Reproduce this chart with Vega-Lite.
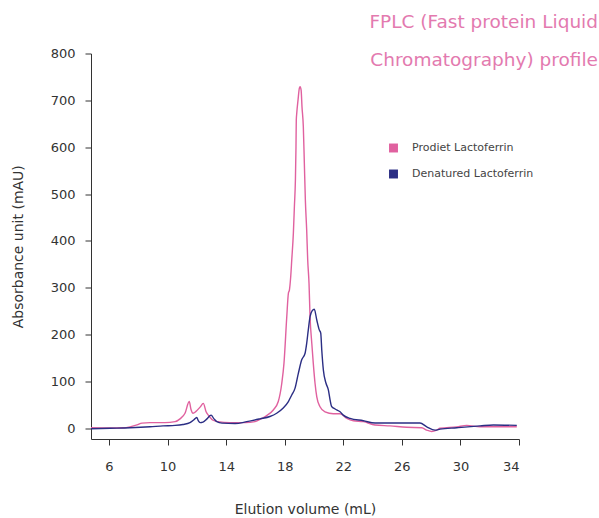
{
  "$schema": "https://vega.github.io/schema/vega-lite/v6.json",
  "autosize": "none",
  "width": 428,
  "height": 385.5,
  "padding": {"left": 91, "top": 53.5, "right": 80, "bottom": 79},
  "background": "white",
  "config": {
    "view": {"stroke": null},
    "font": "DejaVu Sans",
    "axis": {"grid": false, "domainColor": "#333333", "tickColor": "#333333", "labelColor": "#333333", "titleColor": "#333333", "labelFont": "DejaVu Sans", "titleFont": "DejaVu Sans", "titleFontWeight": "normal", "labelFontSize": 13, "titleFontSize": 14}
  },
  "title": {
    "text": ["FPLC (Fast protein Liquid", "Chromatography) profile"],
    "anchor": "end",
    "frame": "group",
    "orient": "top",
    "fontSize": 18.5,
    "fontWeight": "normal",
    "font": "DejaVu Sans",
    "color": "#e37aaf",
    "lineHeight": 38,
    "baseline": "alphabetic",
    "offset": 0,
    "dx": 79,
    "dy": 37
  },
  "data": {
    "values": [
      {"v": 4.77, "a": 1, "s": "Prodiet Lactoferrin"},
      {"v": 6.07, "a": 0.5, "s": "Prodiet Lactoferrin"},
      {"v": 6.96, "a": 1, "s": "Prodiet Lactoferrin"},
      {"v": 7.43, "a": 3, "s": "Prodiet Lactoferrin"},
      {"v": 7.91, "a": 7, "s": "Prodiet Lactoferrin"},
      {"v": 8.25, "a": 11, "s": "Prodiet Lactoferrin"},
      {"v": 8.8, "a": 12, "s": "Prodiet Lactoferrin"},
      {"v": 9.82, "a": 12, "s": "Prodiet Lactoferrin"},
      {"v": 10.51, "a": 14, "s": "Prodiet Lactoferrin"},
      {"v": 10.85, "a": 20, "s": "Prodiet Lactoferrin"},
      {"v": 11.19, "a": 32, "s": "Prodiet Lactoferrin"},
      {"v": 11.48, "a": 57, "s": "Prodiet Lactoferrin"},
      {"v": 11.6, "a": 40, "s": "Prodiet Lactoferrin"},
      {"v": 11.74, "a": 32, "s": "Prodiet Lactoferrin"},
      {"v": 11.94, "a": 36, "s": "Prodiet Lactoferrin"},
      {"v": 12.22, "a": 45, "s": "Prodiet Lactoferrin"},
      {"v": 12.44, "a": 53, "s": "Prodiet Lactoferrin"},
      {"v": 12.63, "a": 35, "s": "Prodiet Lactoferrin"},
      {"v": 12.83, "a": 26, "s": "Prodiet Lactoferrin"},
      {"v": 13.1, "a": 17, "s": "Prodiet Lactoferrin"},
      {"v": 13.44, "a": 14, "s": "Prodiet Lactoferrin"},
      {"v": 14.26, "a": 12, "s": "Prodiet Lactoferrin"},
      {"v": 15.29, "a": 12, "s": "Prodiet Lactoferrin"},
      {"v": 15.97, "a": 14, "s": "Prodiet Lactoferrin"},
      {"v": 16.31, "a": 19, "s": "Prodiet Lactoferrin"},
      {"v": 16.72, "a": 26, "s": "Prodiet Lactoferrin"},
      {"v": 17.22, "a": 39, "s": "Prodiet Lactoferrin"},
      {"v": 17.56, "a": 57, "s": "Prodiet Lactoferrin"},
      {"v": 17.8, "a": 96, "s": "Prodiet Lactoferrin"},
      {"v": 17.95, "a": 139, "s": "Prodiet Lactoferrin"},
      {"v": 18.14, "a": 238, "s": "Prodiet Lactoferrin"},
      {"v": 18.25, "a": 288, "s": "Prodiet Lactoferrin"},
      {"v": 18.32, "a": 295, "s": "Prodiet Lactoferrin"},
      {"v": 18.41, "a": 324, "s": "Prodiet Lactoferrin"},
      {"v": 18.48, "a": 359, "s": "Prodiet Lactoferrin"},
      {"v": 18.59, "a": 416, "s": "Prodiet Lactoferrin"},
      {"v": 18.66, "a": 473, "s": "Prodiet Lactoferrin"},
      {"v": 18.73, "a": 530, "s": "Prodiet Lactoferrin"},
      {"v": 18.77, "a": 601, "s": "Prodiet Lactoferrin"},
      {"v": 18.79, "a": 658, "s": "Prodiet Lactoferrin"},
      {"v": 18.82, "a": 672, "s": "Prodiet Lactoferrin"},
      {"v": 18.91, "a": 701, "s": "Prodiet Lactoferrin"},
      {"v": 19.0, "a": 726, "s": "Prodiet Lactoferrin"},
      {"v": 19.05, "a": 729, "s": "Prodiet Lactoferrin"},
      {"v": 19.12, "a": 722, "s": "Prodiet Lactoferrin"},
      {"v": 19.18, "a": 686, "s": "Prodiet Lactoferrin"},
      {"v": 19.27, "a": 644, "s": "Prodiet Lactoferrin"},
      {"v": 19.34, "a": 566, "s": "Prodiet Lactoferrin"},
      {"v": 19.41, "a": 487, "s": "Prodiet Lactoferrin"},
      {"v": 19.5, "a": 423, "s": "Prodiet Lactoferrin"},
      {"v": 19.57, "a": 359, "s": "Prodiet Lactoferrin"},
      {"v": 19.66, "a": 309, "s": "Prodiet Lactoferrin"},
      {"v": 19.73, "a": 238, "s": "Prodiet Lactoferrin"},
      {"v": 19.85, "a": 181, "s": "Prodiet Lactoferrin"},
      {"v": 19.95, "a": 139, "s": "Prodiet Lactoferrin"},
      {"v": 20.07, "a": 96, "s": "Prodiet Lactoferrin"},
      {"v": 20.19, "a": 67, "s": "Prodiet Lactoferrin"},
      {"v": 20.41, "a": 46, "s": "Prodiet Lactoferrin"},
      {"v": 20.75, "a": 35, "s": "Prodiet Lactoferrin"},
      {"v": 21.32, "a": 31, "s": "Prodiet Lactoferrin"},
      {"v": 21.78, "a": 31, "s": "Prodiet Lactoferrin"},
      {"v": 22.24, "a": 21, "s": "Prodiet Lactoferrin"},
      {"v": 22.69, "a": 16, "s": "Prodiet Lactoferrin"},
      {"v": 23.37, "a": 14, "s": "Prodiet Lactoferrin"},
      {"v": 24.17, "a": 7, "s": "Prodiet Lactoferrin"},
      {"v": 25.19, "a": 5, "s": "Prodiet Lactoferrin"},
      {"v": 26.33, "a": 2, "s": "Prodiet Lactoferrin"},
      {"v": 27.36, "a": 1, "s": "Prodiet Lactoferrin"},
      {"v": 27.7, "a": -4, "s": "Prodiet Lactoferrin"},
      {"v": 28.04, "a": -7, "s": "Prodiet Lactoferrin"},
      {"v": 28.38, "a": -4, "s": "Prodiet Lactoferrin"},
      {"v": 28.61, "a": 0, "s": "Prodiet Lactoferrin"},
      {"v": 29.75, "a": 3, "s": "Prodiet Lactoferrin"},
      {"v": 30.43, "a": 6, "s": "Prodiet Lactoferrin"},
      {"v": 31.34, "a": 3, "s": "Prodiet Lactoferrin"},
      {"v": 33.85, "a": 3, "s": "Prodiet Lactoferrin"},
      {"v": 4.77, "a": -1, "s": "Denatured Lactoferrin"},
      {"v": 6.07, "a": 0, "s": "Denatured Lactoferrin"},
      {"v": 7.43, "a": 1, "s": "Denatured Lactoferrin"},
      {"v": 8.8, "a": 3, "s": "Denatured Lactoferrin"},
      {"v": 9.69, "a": 5, "s": "Denatured Lactoferrin"},
      {"v": 10.51, "a": 6, "s": "Denatured Lactoferrin"},
      {"v": 11.05, "a": 8, "s": "Denatured Lactoferrin"},
      {"v": 11.53, "a": 12, "s": "Denatured Lactoferrin"},
      {"v": 11.8, "a": 18, "s": "Denatured Lactoferrin"},
      {"v": 11.99, "a": 23, "s": "Denatured Lactoferrin"},
      {"v": 12.1, "a": 16, "s": "Denatured Lactoferrin"},
      {"v": 12.22, "a": 12, "s": "Denatured Lactoferrin"},
      {"v": 12.42, "a": 13, "s": "Denatured Lactoferrin"},
      {"v": 12.69, "a": 20, "s": "Denatured Lactoferrin"},
      {"v": 12.97, "a": 28, "s": "Denatured Lactoferrin"},
      {"v": 13.17, "a": 20, "s": "Denatured Lactoferrin"},
      {"v": 13.36, "a": 14, "s": "Denatured Lactoferrin"},
      {"v": 13.72, "a": 11, "s": "Denatured Lactoferrin"},
      {"v": 14.61, "a": 10, "s": "Denatured Lactoferrin"},
      {"v": 15.41, "a": 14, "s": "Denatured Lactoferrin"},
      {"v": 16.31, "a": 20, "s": "Denatured Lactoferrin"},
      {"v": 16.99, "a": 25, "s": "Denatured Lactoferrin"},
      {"v": 17.45, "a": 32, "s": "Denatured Lactoferrin"},
      {"v": 17.9, "a": 43, "s": "Denatured Lactoferrin"},
      {"v": 18.25, "a": 57, "s": "Denatured Lactoferrin"},
      {"v": 18.48, "a": 71, "s": "Denatured Lactoferrin"},
      {"v": 18.7, "a": 85, "s": "Denatured Lactoferrin"},
      {"v": 18.93, "a": 117, "s": "Denatured Lactoferrin"},
      {"v": 19.16, "a": 146, "s": "Denatured Lactoferrin"},
      {"v": 19.39, "a": 160, "s": "Denatured Lactoferrin"},
      {"v": 19.5, "a": 181, "s": "Denatured Lactoferrin"},
      {"v": 19.61, "a": 210, "s": "Denatured Lactoferrin"},
      {"v": 19.73, "a": 238, "s": "Denatured Lactoferrin"},
      {"v": 19.88, "a": 251, "s": "Denatured Lactoferrin"},
      {"v": 20.02, "a": 254, "s": "Denatured Lactoferrin"},
      {"v": 20.19, "a": 231, "s": "Denatured Lactoferrin"},
      {"v": 20.36, "a": 210, "s": "Denatured Lactoferrin"},
      {"v": 20.46, "a": 203, "s": "Denatured Lactoferrin"},
      {"v": 20.53, "a": 167, "s": "Denatured Lactoferrin"},
      {"v": 20.64, "a": 124, "s": "Denatured Lactoferrin"},
      {"v": 20.82, "a": 96, "s": "Denatured Lactoferrin"},
      {"v": 20.98, "a": 82, "s": "Denatured Lactoferrin"},
      {"v": 21.1, "a": 60, "s": "Denatured Lactoferrin"},
      {"v": 21.21, "a": 46, "s": "Denatured Lactoferrin"},
      {"v": 21.44, "a": 41, "s": "Denatured Lactoferrin"},
      {"v": 21.78, "a": 35, "s": "Denatured Lactoferrin"},
      {"v": 22.0, "a": 28, "s": "Denatured Lactoferrin"},
      {"v": 22.46, "a": 21, "s": "Denatured Lactoferrin"},
      {"v": 23.37, "a": 16, "s": "Denatured Lactoferrin"},
      {"v": 24.17, "a": 11, "s": "Denatured Lactoferrin"},
      {"v": 25.19, "a": 11, "s": "Denatured Lactoferrin"},
      {"v": 27.24, "a": 11, "s": "Denatured Lactoferrin"},
      {"v": 27.7, "a": 3, "s": "Denatured Lactoferrin"},
      {"v": 28.27, "a": -4, "s": "Denatured Lactoferrin"},
      {"v": 28.61, "a": -2, "s": "Denatured Lactoferrin"},
      {"v": 29.75, "a": 1, "s": "Denatured Lactoferrin"},
      {"v": 31.34, "a": 5, "s": "Denatured Lactoferrin"},
      {"v": 32.25, "a": 7, "s": "Denatured Lactoferrin"},
      {"v": 33.85, "a": 6, "s": "Denatured Lactoferrin"}
    ]
  },
  "mark": {"type": "line", "strokeWidth": 1.4, "interpolate": "monotone", "clip": false},
  "encoding": {
    "x": {
      "field": "v", "type": "quantitative",
      "scale": {"domain": [4.77, 34], "nice": false, "zero": false},
      "axis": {"title": "Elution volume (mL)", "values": [6, 10, 14, 18, 22, 26, 30, 34], "tickSize": 6, "labelPadding": 15, "titlePadding": 29, "labelFontSize": 13}
    },
    "y": {
      "field": "a", "type": "quantitative",
      "scale": {"domain": [-23, 800], "nice": false, "zero": false},
      "axis": {"title": "Absorbance unit (mAU)", "values": [0, 100, 200, 300, 400, 500, 600, 700, 800], "tickSize": 6, "labelPadding": 10, "titlePadding": 25}
    },
    "color": {
      "field": "s", "type": "nominal",
      "scale": {"domain": ["Prodiet Lactoferrin", "Denatured Lactoferrin"], "range": ["#e0619f", "#2b2e84"]},
      "legend": {
        "title": null, "orient": "none", "legendX": 297, "legendY": 89,
        "symbolType": "square", "symbolSize": 80, "symbolStrokeWidth": 0,
        "labelFontSize": 11, "labelColor": "#444444", "labelOffset": 13, "rowPadding": 14, "labelFont": "DejaVu Sans",
        "encode": {"symbols": {"update": {"fill": {"scale": "color", "field": "value"}, "fillOpacity": {"value": 1}, "strokeWidth": {"value": 0}}}}
      }
    }
  }
}
